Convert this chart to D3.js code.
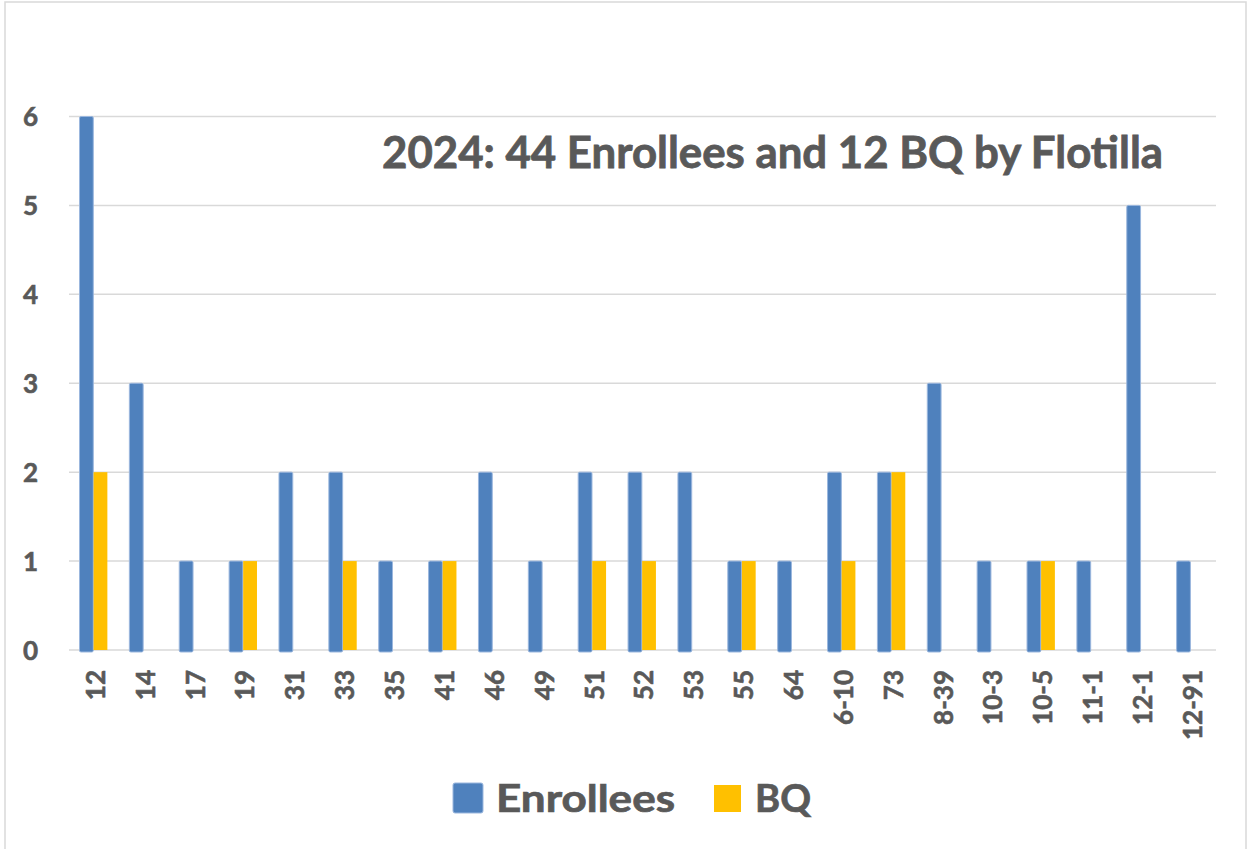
<!DOCTYPE html>
<html>
<head>
<meta charset="utf-8">
<script src="https://cdn.jsdelivr.net/npm/d3@7"></script>
<style>
  html, body { margin: 0; padding: 0; background: #fff; }
  svg { display: block; }
  text { font-family: Lato, "Open Sans", sans-serif; font-weight: bold; fill: #595959; }
</style>
</head>
<body>
<svg id="chart" width="1249" height="849"></svg>
<script>
const categories = ["12","14","17","19","31","33","35","41","46","49","51","52","53","55","64","6-10","73","8-39","10-3","10-5","11-1","12-1","12-91"];
const enrollees = [6,3,1,1,2,2,1,1,2,1,2,2,2,1,1,2,2,3,1,1,1,5,1];
const bq        = [2,0,0,1,0,1,0,1,0,0,1,1,0,1,0,1,2,0,0,1,0,0,0];
const seriesNames = ["Enrollees","BQ"];
const seriesColors = ["#4F81BD","#FFC000"];
const yTicks = [0,1,2,3,4,5,6];
const titleText = "2024: 44 Enrollees and 12 BQ by Flotilla";

const svg = d3.select("#chart");
const W = 1249, H = 849;
const plot = {left: 69, right: 1216, top: 116.5, bottom: 650};
const textStroke = "#595959";

// outer border
svg.append("rect").attr("x", 5).attr("y", 2).attr("width", 1241).attr("height", H + 10)
  .attr("fill", "none").attr("stroke", "#d9d9d9").attr("stroke-width", 1.5);

const x = d3.scaleBand().domain(categories).range([plot.left, plot.right]).padding(0);
const y = d3.scaleLinear().domain([0, 6]).range([plot.bottom, plot.top]);

const groupW = x.bandwidth() * 0.57;
const x1 = d3.scaleBand().domain(seriesNames).range([0, groupW]).padding(0.02);

// gridlines
svg.append("g").selectAll("line").data(yTicks).join("line")
  .attr("x1", plot.left).attr("x2", plot.right)
  .attr("y1", d => y(d)).attr("y2", d => y(d))
  .attr("stroke", "#d9d9d9").attr("stroke-width", 1.5);

// y labels
const yAxis = d3.axisLeft(y).tickValues(yTicks).tickSize(0).tickPadding(0).tickFormat(d3.format("d"));
const gy = svg.append("g").attr("transform", `translate(38,0)`).call(yAxis);
gy.select(".domain").remove();
gy.selectAll("text").attr("font-size", 26).attr("fill", "#595959")
  .attr("stroke", textStroke).attr("stroke-width", 0.6)
  .style("font-family", "Lato, 'Open Sans', sans-serif").style("font-weight", "bold")
  .attr("dy", "0.36em");

// bars
const data = categories.map((c, i) => ({cat: c, values: [enrollees[i], bq[i]]}));
const groups = svg.append("g").selectAll("g").data(data).join("g")
  .attr("transform", d => `translate(${x(d.cat) + (x.bandwidth() - groupW) / 2 - 0.5},0)`);
groups.selectAll("rect").data(d => d.values.map((v, k) => ({name: seriesNames[k], v, k})).filter(e => e.v > 0))
  .join("rect")
  .attr("x", e => x1(e.name))
  .attr("width", x1.bandwidth())
  .attr("y", e => y(e.v))
  .attr("height", e => y(0) - y(e.v) + (e.k === 0 ? 2 : 0))
  .attr("fill", e => seriesColors[e.k])
  .attr("stroke", e => e.k === 0 ? "#9bb7de" : "none")
  .attr("stroke-width", 1)
  .attr("rx", e => e.k === 0 ? 1.5 : 0);

// x labels
const xAxis = d3.axisBottom(x).tickSize(0).tickPadding(0);
const gx = svg.append("g").attr("transform", `translate(1.5,670)`).call(xAxis);
gx.select(".domain").remove();
gx.selectAll("text")
  .attr("font-size", 26).attr("fill", "#595959")
  .attr("stroke", textStroke).attr("stroke-width", 0.6)
  .style("font-family", "Lato, 'Open Sans', sans-serif").style("font-weight", "bold")
  .attr("text-anchor", "end")
  .attr("transform", "rotate(-90)")
  .attr("x", 0).attr("y", 0).attr("dy", "0.36em");

// title
svg.append("text").attr("x", 382).attr("y", 168)
  .attr("font-size", 43)
  .attr("stroke", textStroke).attr("stroke-width", 0.8)
  .attr("textLength", 781).attr("lengthAdjust", "spacingAndGlyphs")
  .text(titleText);

// legend
const legend = [
  {name: seriesNames[0], color: seriesColors[0], sx: 453, sy: 783, s: 30, tx: 496, tw: 179},
  {name: seriesNames[1], color: seriesColors[1], sx: 714, sy: 785, s: 27, tx: 755, tw: 56}
];
const lg = svg.append("g");
lg.selectAll("rect").data(legend).join("rect")
  .attr("x", d => d.sx).attr("y", d => d.sy).attr("width", d => d.s).attr("height", d => d.s)
  .attr("fill", d => d.color)
  .attr("stroke", (d, i) => i === 0 ? "#9bb7de" : "none").attr("rx", (d, i) => i === 0 ? 2 : 0);
lg.selectAll("text").data(legend).join("text")
  .attr("x", d => d.tx).attr("y", 812)
  .attr("font-size", 38)
  .attr("stroke", textStroke).attr("stroke-width", 0.7)
  .attr("textLength", d => d.tw).attr("lengthAdjust", "spacingAndGlyphs")
  .text(d => d.name);
</script>
</body>
</html>
